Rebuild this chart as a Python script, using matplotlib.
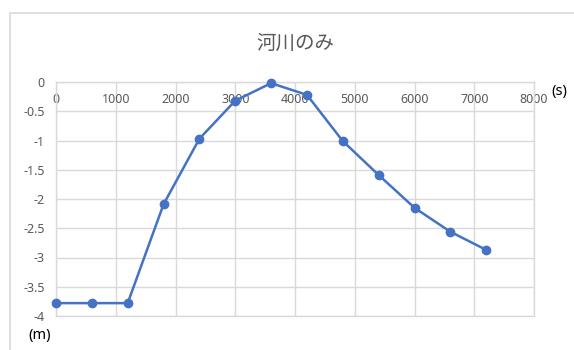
import matplotlib
matplotlib.use('Agg')
import matplotlib.pyplot as plt
from matplotlib.patches import Rectangle

# data
t_s = [0, 600, 1200, 1800, 2400, 3000, 3600, 4200, 4800, 5400, 6000, 6600, 7200]
level_m = [-3.78, -3.78, -3.78, -2.09, -0.97, -0.32, -0.02, -0.22, -1.01, -1.59, -2.15, -2.56, -2.87]
x_ticks = [0, 1000, 2000, 3000, 4000, 5000, 6000, 7000, 8000]
y_ticks = [0, -0.5, -1, -1.5, -2, -2.5, -3, -3.5, -4]
y_labels = ['0', '-0.5', '-1', '-1.5', '-2', '-2.5', '-3', '-3.5', '-4']
title = '河川のみ'

plt.rcParams['font.family'] = ['Noto Sans', 'Noto Sans CJK JP']
grey = '#595959'
grid_c = '#d9d9d9'
blue = '#4472c4'

fig = plt.figure(figsize=(5.74, 3.50), dpi=100)
ax = fig.add_axes([56/574, 1-316/350, (534-56)/574, (316-82)/350])

ax.plot(t_s, level_m, color=blue, lw=1.8, marker='o', ms=6, zorder=3, clip_on=False)

ax.set_xlim(0, 8000)
ax.set_ylim(-4, 0)
ax.set_xticks(x_ticks)
ax.set_yticks(y_ticks)
ax.set_yticklabels(y_labels)
ax.grid(True, color=grid_c, lw=1)
for s in ax.spines.values():
    s.set_color(grid_c)
    s.set_linewidth(1)

ax.xaxis.set_ticks_position('top')
ax.tick_params(axis='x', length=0, pad=-17, labelsize=9, labelcolor=grey)
ax.tick_params(axis='y', length=0, pad=8, labelsize=9, labelcolor=grey)

fig.text(295/574, 1-43/350, title, ha='center', va='center', fontsize=14,
         color=grey, family='Noto Sans CJK JP')
fig.text(551/574, 1-92/350, '(s)', ha='left', va='center', fontsize=10.5, color='black')
fig.text(28/574, 1-335/350, '(m)', ha='left', va='center', fontsize=10.5, color='black')

fig.patches.append(Rectangle((10/574, -0.05), 1.1, 1-13/350+0.05, transform=fig.transFigure,
                             fill=False, edgecolor=grid_c, lw=1.2))

fig.savefig('out.png', dpi=100)
